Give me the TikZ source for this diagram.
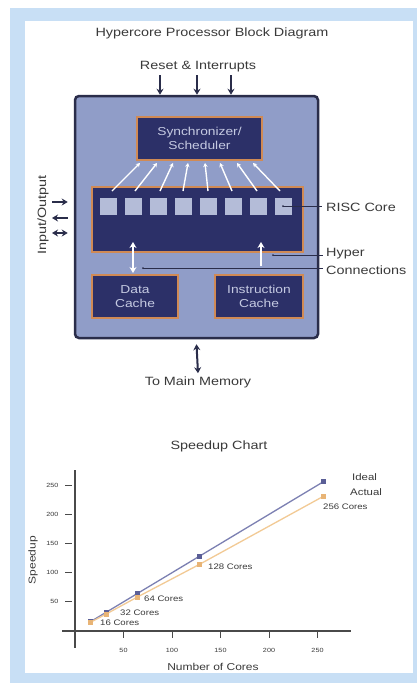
\documentclass[tikz,border=0pt]{standalone}
\usepackage{fontspec}
\setmainfont{Liberation Sans}[FakeStretch=1.2]
\usetikzlibrary{arrows.meta,calc}
\definecolor{frame}{HTML}{C8DFF5}
\definecolor{boxfill}{HTML}{909DC8}
\definecolor{boxline}{HTML}{2A2D4A}
\definecolor{navy}{HTML}{2C3068}
\definecolor{orng}{HTML}{D08A55}
\definecolor{sq}{HTML}{B4BCD8}
\definecolor{txt}{HTML}{3A3A3A}
\definecolor{intxt}{HTML}{C5CAE2}
\definecolor{ideal}{HTML}{7C80B2}
\definecolor{idealm}{HTML}{5A5E96}
\definecolor{actual}{HTML}{F2CA95}
\definecolor{actualm}{HTML}{E8B476}
\definecolor{axisc}{HTML}{4A4A4A}
\begin{document}
\begin{tikzpicture}[x=1pt,y=-1pt,
  unit/.style={draw=orng, line width=2.5pt, fill=navy, text=intxt, align=center, inner sep=0pt, font=\fontsize{11.5}{14}\selectfont},
  core/.style={fill=sq, minimum size=17pt, inner sep=0pt},
  lbl/.style={text=txt, inner sep=0pt, font=\fontsize{12}{14}\selectfont},
  darr/.style={boxline, line width=2pt, -{Stealth[length=6pt,width=7pt]}},
  ddarr/.style={boxline, line width=2pt, {Stealth[length=6pt,width=7pt]}-{Stealth[length=6pt,width=7pt]}},
  warr/.style={white, line width=1.4pt, -{Stealth[length=4pt,width=4.5pt]}},
  harr/.style={white, line width=2.5pt, -{Stealth[length=6pt,width=7pt]}},
  hdarr/.style={white, line width=2.5pt, {Stealth[length=6pt,width=7pt]}-{Stealth[length=6pt,width=7pt]}},
  lead/.style={boxline, line width=0.6pt},
  tickln/.style={axisc, line width=0.8pt},
  ticklbl/.style={text=txt, inner sep=0pt, font=\fontsize{6}{7}\selectfont},
  corelbl/.style={text=txt, inner sep=0pt, anchor=west, font=\fontsize{8}{9}\selectfont},
  ptmark/.style={minimum size=5pt, inner sep=0pt}
]
\useasboundingbox (0,0) rectangle (417,683);
\fill[white] (0,0) rectangle (417,683);
\fill[frame] (10,8) rectangle (417,683);
\fill[white] (25,21) rectangle (413,673);

% ---------- block diagram ----------
\node[lbl] (title) at (212,33) {Hypercore Processor Block Diagram};
\node[lbl] (reset) at (198,67) {Reset \& Interrupts};

\node[draw=boxline, line width=2.5pt, fill=boxfill, rounded corners=4pt,
      minimum width=243pt, minimum height=242pt, inner sep=0pt] (main) at (196.5,217) {};

\node[unit, minimum width=125pt, minimum height=43pt] (sched) at (199.5,138.5) {Synchronizer/\\Scheduler};
\node[unit, minimum width=211pt, minimum height=65pt] (risc) at (197.5,219.5) {};
\node[unit, minimum width=86pt, minimum height=43pt] (dcache) at (135,296.5) {Data\\Cache};
\node[unit, minimum width=88pt, minimum height=43pt] (icache) at (259,296.5) {Instruction\\Cache};

\foreach \i/\x in {1/108,2/133,3/158,4/183,5/208,6/233,7/258,8/283}
  \node[core] (c\i) at (\x,206) {};

% scheduler to cores
\foreach \i/\t/\b in {1/140/112,2/157/135,3/173/160,4/188/183,5/205/208,6/220/232,7/237/257,8/253/280}{
  \coordinate (st\i) at (\t,163);
  \coordinate (sb\i) at (\b,191);
  \draw[warr] (sb\i) -- (st\i);
}

% reset arrows
\foreach \i/\x in {1/160,2/197,3/231}{
  \coordinate (r\i) at (\x,75);
  \draw[darr] (r\i) -- (r\i |- main.north);
}

% input/output
\node[lbl, rotate=90] (io) at (43,215) {Input/Output};
\coordinate (io1) at (52,202);
\coordinate (io2) at (52,218);
\coordinate (io3) at (52,233);
\draw[darr, shorten >=6pt] (io1) -- (io1 -| main.west);
\draw[darr, shorten <=6pt] (io2 -| main.west) -- (io2);
\draw[ddarr, shorten >=6pt] (io3) -- (io3 -| main.west);

% memory
\node[lbl] (mem) at (198,382) {To Main Memory};
\draw[ddarr] ([yshift=-5pt]main.south) -- ([yshift=3pt]mem.north);

% hyper connections
\coordinate (hl) at (133,273);
\coordinate (hlt) at (133,242);
\coordinate (hr) at (261,266);
\coordinate (hrt) at (261,242);
\draw[hdarr] (hl) -- (hlt);
\draw[harr] (hr) -- (hrt);

% labels and leaders
\node[lbl, anchor=west] (risclbl) at (326,207) {RISC Core};
\node[lbl, anchor=west] (hyp1) at (326,254) {Hyper};
\node[lbl, anchor=west] (hyp2) at (326,270) {Connections};
\fill[boxline] (c8.center) circle (1pt);
\draw[lead] (c8.center) -- ([xshift=-4pt]c8.center -| risclbl.west);
\coordinate (hp1) at (273,255);
\coordinate (hp2) at (143,268);
\fill[boxline] (hp1) circle (1pt);
\fill[boxline] (hp2) circle (1pt);
\draw[lead] (hp1) -- ([xshift=-3pt]hp1 -| hyp1.west);
\draw[lead] (hp2) -- ([xshift=-3pt]hp2 -| hyp2.west);

% ---------- speedup chart ----------
\node[lbl] (ctitle) at (219,446) {Speedup Chart};
\node[text=txt, inner sep=0pt, font=\fontsize{10}{12}\selectfont] (xlab) at (213,667) {Number of Cores};
\node[text=txt, inner sep=0pt, font=\fontsize{10}{12}\selectfont, rotate=90] (ylab) at (33,560) {Speedup};

\begin{scope}[xshift=75pt, yshift=-631pt, x=0.97pt, y=0.583pt]
  \draw[axisc, line width=1.5pt] (0,-29) -- (0,276);
  \draw[axisc, line width=1.5pt] (-13,0) -- (285,0);
  \foreach \v in {50,100,150,200,250}{
    \draw[tickln] (-10,\v) -- (-3,\v);
    \node[ticklbl, anchor=east] at (-17,\v) {\v};
    \draw[tickln] (\v,-2) -- (\v,-12);
    \node[ticklbl] at (\v,-33) {\v};
  }
  \draw[ideal, line width=1.3pt] (16,16) -- (32,32) -- (64,64) -- (128,128) -- (256,256);
  \draw[actual, line width=1.3pt] (16,15) -- (32,29) -- (64,58) -- (128,114) -- (256,231);
  \foreach \n/\a in {16/15,32/29,64/58,128/114,256/231}{
    \node[ptmark, fill=idealm] (i\n) at (\n,\n) {};
    \node[ptmark, fill=actualm] (a\n) at (\n,\a) {};
  }
\end{scope}
\node[corelbl] (l16) at (100,623) {16 Cores};
\node[corelbl] (l32) at (120,613) {32 Cores};
\node[corelbl] (l64) at (144,599) {64 Cores};
\node[corelbl] (l128) at (208,567) {128 Cores};
\node[corelbl] (l256) at (323,507) {256 Cores};
\node[corelbl, font=\fontsize{9.5}{11}\selectfont] (lid) at (352,477) {Ideal};
\node[corelbl, font=\fontsize{9.5}{11}\selectfont] (lac) at (350,492) {Actual};
\end{tikzpicture}
\end{document}
